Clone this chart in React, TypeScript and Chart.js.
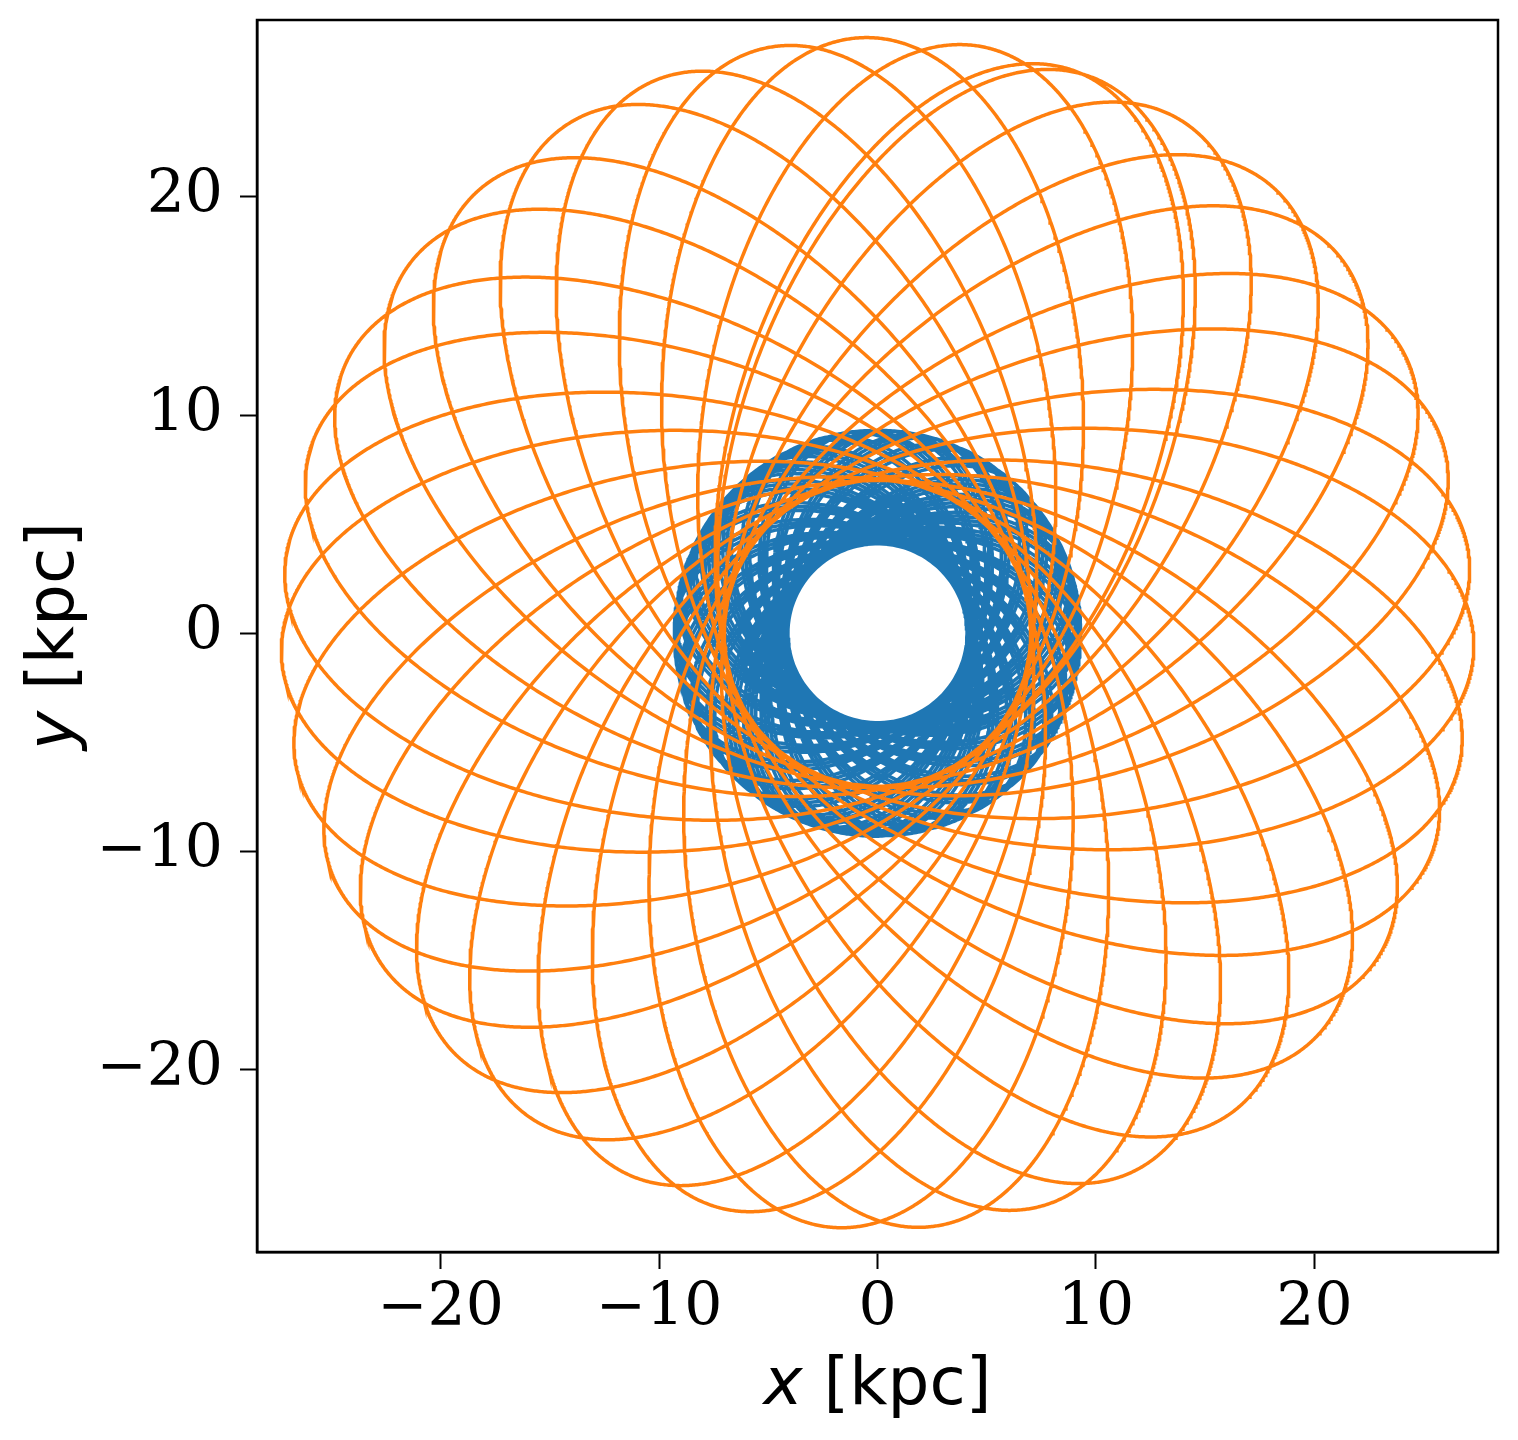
import React, { useEffect, useRef } from 'react';
import { Chart, registerables } from 'chart.js';

Chart.register(...registerables);

// ---- Gravitational potential used to trace the orbits (kpc, Myr, Msun) ----
const G = 4.498502151469554e-12; // kpc^3 / (Msun Myr^2)
const componentKind = ['hernquist', 'hernquist', 'miyamoto-nagai', 'nfw'];
const componentMass = [1.71e9, 5.0e9, 6.8e10, 9.834e11]; // Msun
const componentScale = [0.07, 1.0, 3.0, 15.62]; // kpc
const componentThickness = [0, 0, 0.28, 0]; // kpc

// ---- The two orbits ----
const orbitNames = ['inner orbit', 'outer orbit'];
const orbitColors = ['#1f77b4', '#ff7f0e'];
const pericentreKpc = [4.1, 7.0];
const apocentreKpc = [9.3, 27.3];
const apocentreAngleDeg = [0, 70.9]; // direction of the reference apocentre
const leadInMyr = [0, 146]; // time traced before the reference apocentre
const durationMyr = [10177, 10323]; // time traced after it

// ---- Axes ----
const xLimits = [-28.4, 28.4];
const yLimits = [-28.35, 28.1];
const xTickValues = [-20, -10, 0, 10, 20];
const yTickValues = [-20, -10, 0, 10, 20];
const xTitle = ['x', ' [kpc]'];
const yTitle = ['y', ' [kpc]'];

function potential(r: number): number {
  let p = 0;
  for (let i = 0; i < componentKind.length; i++) {
    const gm = G * componentMass[i];
    const a = componentScale[i];
    if (componentKind[i] === 'hernquist') p += -gm / (r + a);
    else if (componentKind[i] === 'miyamoto-nagai') {
      const s = a + componentThickness[i];
      p += -gm / Math.sqrt(r * r + s * s);
    } else p += (-gm * Math.log(1 + r / a)) / r;
  }
  return p;
}

function radialAccel(r: number): number {
  let g = 0;
  for (let i = 0; i < componentKind.length; i++) {
    const gm = G * componentMass[i];
    const a = componentScale[i];
    if (componentKind[i] === 'hernquist') g += -gm / ((r + a) * (r + a));
    else if (componentKind[i] === 'miyamoto-nagai') {
      const s = a + componentThickness[i];
      g += (-gm * r) / Math.pow(r * r + s * s, 1.5);
    } else {
      const x = r / a;
      g += (-gm * (Math.log(1 + x) - x / (1 + x))) / (r * r);
    }
  }
  return g;
}

function accel(px: number, py: number) {
  const r = Math.hypot(px, py);
  const g = radialAccel(r) / r;
  return [g * px, g * py];
}

// Leapfrog integration from the apocentre, forwards (dt > 0) or backwards (dt < 0)
function leapfrog(x: number, y: number, vx: number, vy: number, dt: number, time: number) {
  const n = Math.round(time / Math.abs(dt));
  const pts: { x: number; y: number }[] = [];
  let [ax, ay] = accel(x, y);
  for (let k = 1; k <= n; k++) {
    vx += 0.5 * dt * ax;
    vy += 0.5 * dt * ay;
    x += dt * vx;
    y += dt * vy;
    [ax, ay] = accel(x, y);
    vx += 0.5 * dt * ax;
    vy += 0.5 * dt * ay;
    if (k % 2 === 0 || k === n) pts.push({ x, y });
  }
  return pts;
}

function traceOrbit(i: number) {
  const ra = apocentreKpc[i];
  const rp = pericentreKpc[i];
  const va = Math.sqrt((2 * (potential(ra) - potential(rp))) / ((ra / rp) ** 2 - 1));
  const th = (apocentreAngleDeg[i] * Math.PI) / 180;
  const x = ra * Math.cos(th);
  const y = ra * Math.sin(th);
  const vx = -va * Math.sin(th);
  const vy = va * Math.cos(th);
  const before = leadInMyr[i] > 0 ? leapfrog(x, y, vx, vy, -0.25, leadInMyr[i]).reverse() : [];
  const after = leapfrog(x, y, vx, vy, 0.25, durationMyr[i]);
  return [...before, { x, y }, ...after];
}

const framePlugin = {
  id: 'frame',
  afterDatasetsDraw(chart: any) {
    const { ctx, chartArea } = chart;
    ctx.save();
    ctx.strokeStyle = '#000';
    ctx.lineWidth = 2.5;
    ctx.strokeRect(chartArea.left, chartArea.top, chartArea.right - chartArea.left, chartArea.bottom - chartArea.top);
    ctx.restore();
  },
};

const titlePlugin = {
  id: 'mixedTitles',
  afterDraw(chart: any) {
    const { ctx, chartArea } = chart;
    const size = 66;
    const italic = `italic ${size}px "DejaVu Sans"`;
    const normal = `${size}px "DejaVu Sans"`;
    ctx.save();
    ctx.fillStyle = '#000';
    ctx.textBaseline = 'alphabetic';
    ctx.textAlign = 'left';
    ctx.font = italic;
    const w1 = ctx.measureText(xTitle[0]).width;
    ctx.font = normal;
    const w2 = ctx.measureText(xTitle[1]).width;
    const cx = (chartArea.left + chartArea.right) / 2;
    const sx = cx - (w1 + w2) / 2;
    ctx.font = italic;
    ctx.fillText(xTitle[0], sx, 1404);
    ctx.font = normal;
    ctx.fillText(xTitle[1], sx + w1, 1404);
    ctx.font = italic;
    const h1 = ctx.measureText(yTitle[0]).width;
    ctx.font = normal;
    const h2 = ctx.measureText(yTitle[1]).width;
    const cy = (chartArea.top + chartArea.bottom) / 2;
    ctx.translate(73, cy);
    ctx.rotate(-Math.PI / 2);
    const sy = -(h1 + h2) / 2;
    ctx.font = italic;
    ctx.fillText(yTitle[0], sy, 0);
    ctx.font = normal;
    ctx.fillText(yTitle[1], sy + h1, 0);
    ctx.restore();
  },
};

const fmt = (v: number) => (v < 0 ? '\u2212' + Math.abs(v) : String(v));

export default function App() {
  const ref = useRef<HTMLCanvasElement>(null);
  useEffect(() => {
    const orbits = orbitNames.map((_, i) => traceOrbit(i));
    const chart = new Chart(ref.current as HTMLCanvasElement, {
      type: 'scatter',
      data: {
        datasets: orbits.map((pts, i) => ({
          label: orbitNames[i],
          data: pts,
          showLine: true,
          borderColor: orbitColors[i],
          backgroundColor: orbitColors[i],
          borderWidth: 3.5,
          pointRadius: 0,
          tension: 0,
          fill: false,
          order: orbitNames.length - i,
        })),
      },
      options: {
        responsive: false,
        animation: false,
        devicePixelRatio: 1,
        parsing: false,
        layout: { padding: { left: 0, top: 20, right: 20, bottom: 0 } },
        plugins: { legend: { display: false }, tooltip: { enabled: false } },
        events: [],
        scales: {
          x: {
            type: 'linear',
            min: xLimits[0],
            max: xLimits[1],
            afterBuildTicks: (s: any) => {
              s.ticks = xTickValues.map((v) => ({ value: v }));
            },
            afterFit: (s: any) => {
              s.height = 188;
              s.paddingLeft = 0;
              s.paddingRight = 0;
            },
            ticks: { callback: (v: any) => fmt(Number(v)), font: { family: '"DejaVu Serif"', size: 60 }, color: '#000', padding: 4, maxRotation: 0, autoSkip: false },
            grid: { display: true, drawOnChartArea: false, drawTicks: true, tickLength: 17, tickWidth: 2, tickColor: '#000' },
            border: { display: true, color: '#000', width: 2.5 },
          },
          y: {
            type: 'linear',
            min: yLimits[0],
            max: yLimits[1],
            afterBuildTicks: (s: any) => {
              s.ticks = yTickValues.map((v) => ({ value: v }));
            },
            afterFit: (s: any) => {
              s.width = 257;
              s.paddingTop = 0;
              s.paddingBottom = 0;
            },
            ticks: { callback: (v: any) => fmt(Number(v)), font: { family: '"DejaVu Serif"', size: 60 }, color: '#000', padding: 17, autoSkip: false },
            grid: { display: true, drawOnChartArea: false, drawTicks: true, tickLength: 17, tickWidth: 2, tickColor: '#000' },
            border: { display: true, color: '#000', width: 2.5 },
          },
        },
      },
      plugins: [framePlugin, titlePlugin],
    });
    return () => chart.destroy();
  }, []);
  return (
    <div style={{ position: 'absolute', left: 0, top: 0, width: 1518, height: 1440, background: '#fff' }}>
      <canvas ref={ref} width={1518} height={1440} style={{ width: 1518, height: 1440, display: 'block' }} />
    </div>
  );
}
